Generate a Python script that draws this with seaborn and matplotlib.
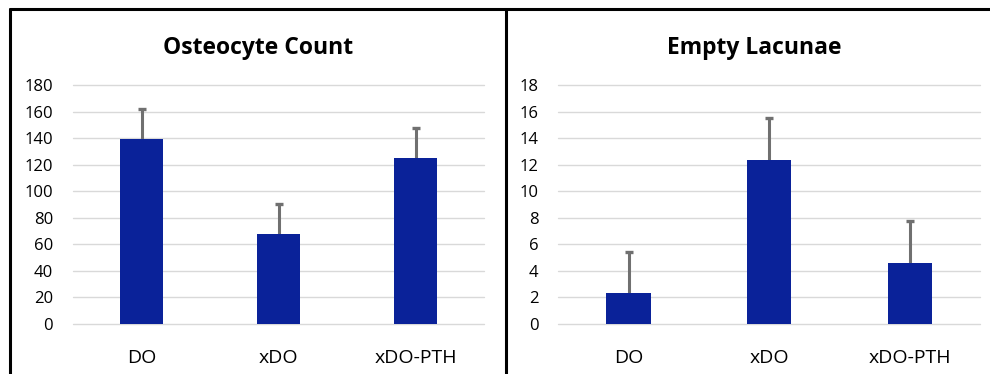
import matplotlib
matplotlib.use("Agg")
import matplotlib.pyplot as plt
import seaborn as sns
import pandas as pd
from matplotlib.lines import Line2D

categories = ["DO", "xDO", "xDO-PTH"]
osteocyte_mean = [139.6, 67.5, 124.8]
osteocyte_err = [22.6, 22.9, 22.6]
lacunae_mean = [2.36, 12.33, 4.62]
lacunae_err = [3.04, 3.16, 3.14]
osteocyte_ticks = [0, 20, 40, 60, 80, 100, 120, 140, 160, 180]
lacunae_ticks = [0, 2, 4, 6, 8, 10, 12, 14, 16, 18]

sns.set_theme(style="white")
plt.rcParams['font.family'] = ['Open Sans', 'DejaVu Sans']

BAR = "#0A2299"
ERR = "#707070"
GRID = "#D9D9D9"

fig = plt.figure(figsize=(9.9, 3.74), dpi=100)
ax1 = fig.add_axes([73/990, 50/374, 411/990, 239/374])
ax2 = fig.add_axes([558.3/990, 50/374, 421.7/990, 239/374])

panels = [
    (ax1, "Osteocyte Count", osteocyte_mean, osteocyte_err, osteocyte_ticks, 0.45),
    (ax2, "Empty Lacunae", lacunae_mean, lacunae_err, lacunae_ticks, 0.464),
]

for ax, title, means, errs, ticks, tx in panels:
    df = pd.DataFrame({"group": categories, "value": means})
    sns.barplot(data=df, x="group", y="value", color=BAR, saturation=1,
                width=0.315, errorbar=None, ax=ax, zorder=3, linewidth=0)
    xs = list(range(len(categories)))
    tops = [m + e for m, e in zip(means, errs)]
    ax.errorbar(xs, means, yerr=[[0]*len(errs), errs],
                fmt="none", ecolor=ERR, elinewidth=2.2, capsize=0, zorder=2)
    ax.plot(xs, tops, linestyle="none", marker="_", markersize=5.5,
            markeredgewidth=2.4, color=ERR, zorder=2)
    ax.set_ylim(ticks[0], ticks[-1])
    ax.set_xlim(-0.5, 2.5)
    ax.set_yticks(ticks)
    ax.yaxis.grid(True, color=GRID, linewidth=1.0, zorder=0)
    ax.set_axisbelow(True)
    for s in ax.spines.values():
        s.set_visible(False)
    ax.set_xlabel("")
    ax.set_ylabel("")
    ax.tick_params(axis="y", length=0, pad=14.4, labelsize=12, colors="black")
    ax.tick_params(axis="x", length=0, pad=18, labelsize=14, colors="black")
    ax.text(tx, 1.13, title, transform=ax.transAxes, ha="center",
            va="baseline", fontsize=16.5, fontweight="bold", color="black")
    for line in ax.get_ygridlines():
        line.set_clip_on(False)

# panel frames
lw = 2.2
fig.add_artist(Line2D([10/990, 10/990], [0, 1 - 9/374], transform=fig.transFigure,
                      color="black", linewidth=lw))
fig.add_artist(Line2D([10/990, 1], [1 - 9/374, 1 - 9/374], transform=fig.transFigure,
                      color="black", linewidth=lw))
fig.add_artist(Line2D([506/990, 506/990], [0, 1 - 9/374], transform=fig.transFigure,
                      color="black", linewidth=lw))

fig.savefig("out.png", dpi=100)
